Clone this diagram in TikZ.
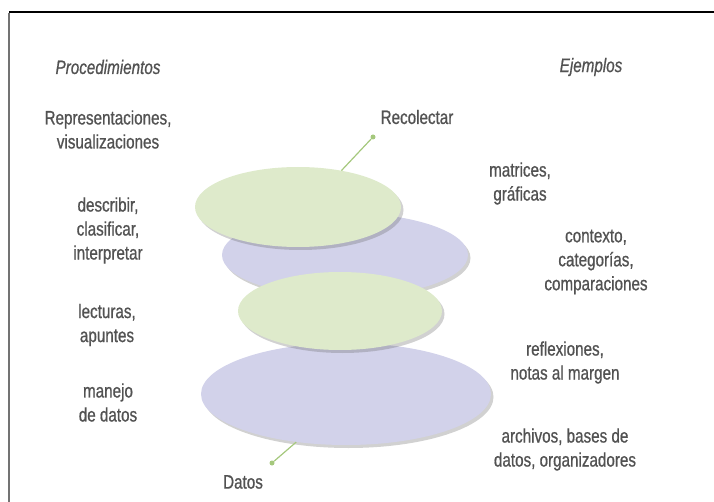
\documentclass[tikz,border=0pt]{standalone}
\usepackage{fontspec}
\setmainfont{Liberation Sans}[FakeStretch=0.78,FakeBold=0.8]
\usetikzlibrary{shapes.geometric,shadows}
\definecolor{verde}{RGB}{222,234,203}
\definecolor{morado}{RGB}{210,210,234}
\definecolor{pincolor}{RGB}{165,200,125}
\definecolor{texto}{RGB}{82,82,82}

\begin{document}
\begin{tikzpicture}[x=1pt,y=-1pt,
		disco/.style={ellipse,inner sep=0pt,drop shadow={shadow xshift=2.5pt,shadow yshift=-3pt,opacity=0.3,fill=black!60}},
		etiqueta/.style={text=texto,align=center,font=\fontsize{19.5}{24}\selectfont},
		punto/.style={circle,fill=pincolor,inner sep=0pt,minimum size=5pt}]
	\useasboundingbox (0,0) rectangle (714,502);
	\draw[line width=1.5pt] (9,12) -- (714,12);
	\draw[line width=2pt,black!55] (9,12.75) -- (9,502);

	\node[disco,fill=morado,minimum width=290pt,minimum height=102pt] (archivo) at (346,394) {};
	\node[disco,fill=morado,minimum width=246pt,minimum height=84pt] (contexto) at (345,255) {};
	\node[disco,fill=verde,minimum width=204pt,minimum height=78pt] (lectura) at (340,311) {};
	\node[disco,fill=verde,minimum width=206pt,minimum height=80pt] (recoleccion) at (298,207) {};

	\node[punto] (recolpin) at (373,137) {};
	\node[punto] (datospin) at (272,463) {};
	\draw[pincolor,line width=1.2pt] (recoleccion.40) -- (recolpin);
	\draw[pincolor,line width=1.2pt] (archivo.224) -- (datospin);

	\node[etiqueta,font=\fontsize{19.5}{24}\selectfont\itshape] (procedimientos) at (108,67) {Procedimientos};
	\node[etiqueta,font=\fontsize{19.5}{24}\selectfont\itshape] (ejemplos) at (591,67) {Ejemplos};
	\node[etiqueta] (representar) at (108,129.5) {Representaciones,\\visualizaciones};
	\node[etiqueta] (describir) at (108,230.5) {describir,\\clasificar,\\interpretar};
	\node[etiqueta] (lecturas) at (107,325) {lecturas,\\apuntes};
	\node[etiqueta] (manejo) at (108,402.5) {manejo\\de datos};
	\node[etiqueta] (recolectar) at (417,117) {Recolectar};
	\node[etiqueta] (datos) at (243,482) {Datos};
	\node[etiqueta] (matrices) at (520,183.5) {matrices,\\gráficas};
	\node[etiqueta] (categorias) at (596,262) {contexto,\\categorías,\\comparaciones};
	\node[etiqueta] (reflexiones) at (565,362.5) {reflexiones,\\notas al margen};
	\node[etiqueta] (bases) at (565,449.5) {archivos, bases de\\datos, organizadores};
\end{tikzpicture}
\end{document}
